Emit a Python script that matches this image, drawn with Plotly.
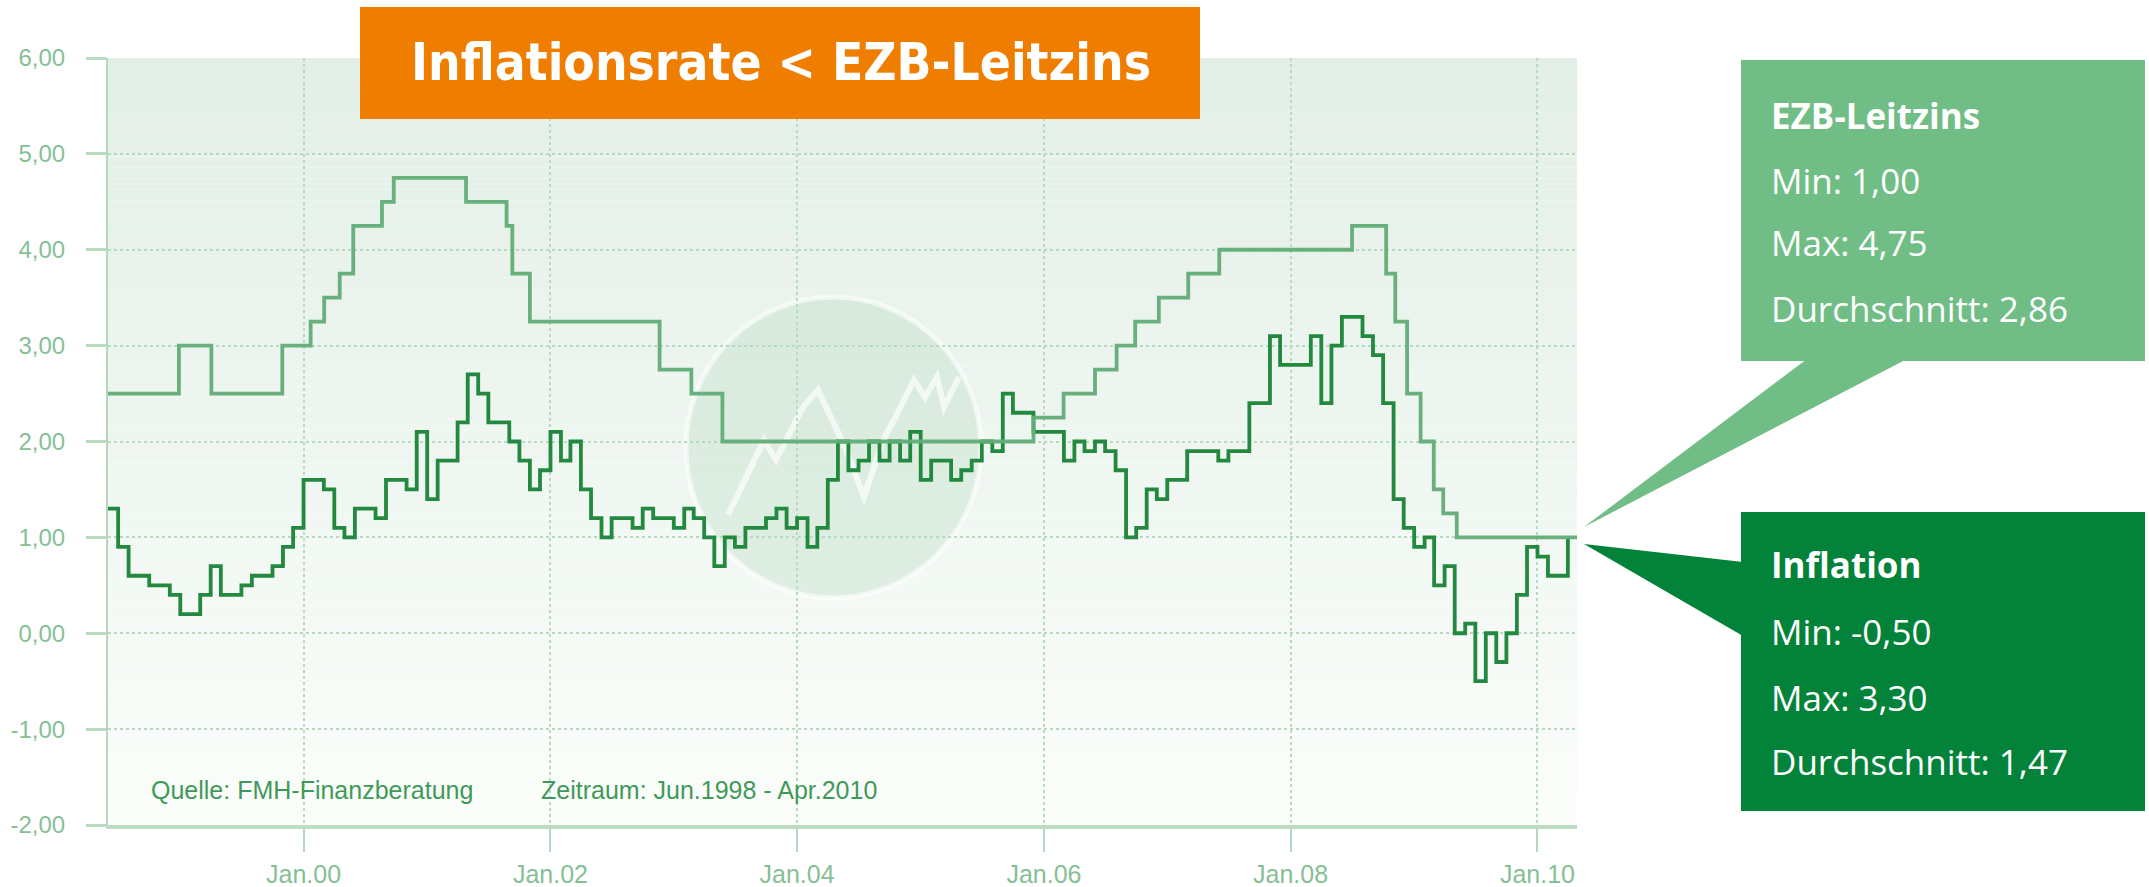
import pandas as pd
import plotly.graph_objects as go

# ---------------- data ----------------
# German inflation rate (% yoy), monthly from Jun 1998 to Apr 2010
months = pd.date_range("1998-06-01", periods=143, freq="MS")
inflation = [
    1.3, 0.9, 0.6, 0.6, 0.5, 0.5, 0.4,                                  # Jun-Dec 1998
    0.2, 0.2, 0.4, 0.7, 0.4, 0.4, 0.5, 0.6, 0.6, 0.7, 0.9, 1.1,         # 1999
    1.6, 1.6, 1.5, 1.1, 1.0, 1.3, 1.3, 1.2, 1.6, 1.6, 1.5, 2.1,         # 2000
    1.4, 1.8, 1.8, 2.2, 2.7, 2.5, 2.2, 2.2, 2.0, 1.8, 1.5, 1.7,         # 2001
    2.1, 1.8, 2.0, 1.5, 1.2, 1.0, 1.2, 1.2, 1.1, 1.3, 1.2, 1.2,         # 2002
    1.1, 1.3, 1.2, 1.0, 0.7, 1.0, 0.9, 1.1, 1.1, 1.2, 1.3, 1.1,         # 2003
    1.2, 0.9, 1.1, 1.6, 2.0, 1.7, 1.8, 2.0, 1.8, 2.0, 1.8, 2.1,         # 2004
    1.6, 1.8, 1.8, 1.6, 1.7, 1.8, 2.0, 1.9, 2.5, 2.3, 2.3, 2.1,         # 2005
    2.1, 2.1, 1.8, 2.0, 1.9, 2.0, 1.9, 1.7, 1.0, 1.1, 1.5, 1.4,         # 2006
    1.6, 1.6, 1.9, 1.9, 1.9, 1.8, 1.9, 1.9, 2.4, 2.4, 3.1, 2.8,         # 2007
    2.8, 2.8, 3.1, 2.4, 3.0, 3.3, 3.3, 3.1, 2.9, 2.4, 1.4, 1.1,         # 2008
    0.9, 1.0, 0.5, 0.7, 0.0, 0.1, -0.5, 0.0, -0.3, 0.0, 0.4, 0.9,       # 2009
    0.8, 0.6, 0.6, 1.0,                                                 # Jan-Apr 2010
]

# EZB-Leitzins: dates of rate changes (as drawn) and the new rate
ezb_dates = [
    "1998-06-01", "1998-12-28", "1999-04-03", "1999-10-30", "2000-01-22",
    "2000-03-02", "2000-04-17", "2000-05-27", "2000-08-20", "2000-09-24",
    "2001-04-26", "2001-08-24", "2001-09-10", "2001-11-01", "2002-11-20",
    "2003-02-22", "2003-05-25", "2005-12-01", "2006-02-28", "2006-06-01",
    "2006-08-04", "2006-09-28", "2006-12-07", "2007-03-04", "2007-06-04",
    "2008-07-01", "2008-10-10", "2008-11-06", "2008-12-11", "2009-01-20",
    "2009-02-28", "2009-03-28", "2009-05-07",
]
ezb_rates = [
    2.50, 3.00, 2.50, 3.00, 3.25,
    3.50, 3.75, 4.25, 4.50, 4.75,
    4.50, 4.25, 3.75, 3.25, 2.75,
    2.50, 2.00, 2.25, 2.50, 2.75,
    3.00, 3.25, 3.50, 3.75, 4.00,
    4.25, 3.75, 3.25, 2.50, 2.00,
    1.50, 1.25, 1.00,
]

x_start, x_end = "1998-06-01", "2010-04-28"

y_ticks = [-2, -1, 0, 1, 2, 3, 4, 5, 6]
y_ticktext = ["-2,00", "-1,00", "0,00", "1,00", "2,00", "3,00", "4,00", "5,00", "6,00"]
x_ticks = ["2000-01-01", "2002-01-01", "2004-01-01", "2006-01-01", "2008-01-01", "2010-01-01"]
x_ticktext = ["Jan.00", "Jan.02", "Jan.04", "Jan.06", "Jan.08", "Jan.10"]

title_text = "Inflationsrate < EZB-Leitzins"
ezb_box = ["EZB-Leitzins", "Min: 1,00", "Max: 4,75", "Durchschnitt: 2,86"]
infl_box = ["Inflation", "Min: -0,50", "Max: 3,30", "Durchschnitt: 1,47"]
source_text = "Quelle: FMH-Finanzberatung"
period_text = "Zeitraum: Jun.1998 - Apr.2010"

# ---------------- layout helpers ----------------
W, H = 2149, 887
L, R, T, B = 108, 572, 58, 62
PW, PH = W - L - R, H - T - B


def fx(px):
    return (px - L) / PW


def fy(py):
    return (H - B - py) / PH


LINE_LIGHT = "#62ad77"
LINE_DARK = "#23893f"
TICK_FONT = "Liberation Sans, Arial, sans-serif"

fig = go.Figure()

fig.add_trace(go.Scatter(
    x=months, y=inflation, mode="lines", line_shape="hv",
    line=dict(color=LINE_DARK, width=3.8), name="Inflation",
))
fig.add_trace(go.Scatter(
    x=ezb_dates + [x_end], y=ezb_rates + [ezb_rates[-1]], mode="lines", line_shape="hv",
    line=dict(color=LINE_LIGHT, width=3.8), name="EZB-Leitzins", opacity=0.95,
))

shapes = []
# background gradient of the plot area
N = 70
top_c, bot_c = (226, 239, 230), (251, 253, 251)
for i in range(N):
    t = i / (N - 1)
    c = tuple(round(top_c[k] + (bot_c[k] - top_c[k]) * t) for k in range(3))
    y1 = 6 - 8 * i / N
    y0 = 6 - 8 * (i + 1) / N
    shapes.append(dict(type="rect", xref="paper", yref="y", x0=0, x1=1, y0=y0, y1=y1,
                       fillcolor="rgb(%d,%d,%d)" % c, line=dict(width=0), layer="below"))

# faint watermark logo
shapes.append(dict(type="circle", xref="paper", yref="paper",
                   x0=fx(686), x1=fx(981), y0=fy(598), y1=fy(297),
                   fillcolor="rgba(185,220,195,0.36)",
                   line=dict(color="rgba(255,255,255,0.6)", width=5), layer="below"))
logo_pts = [(728, 515), (764, 440), (776, 460), (803, 407), (818, 390), (826, 407),
            (845, 447), (864, 497), (883, 440), (894, 420), (914, 380), (925, 397),
            (937, 377), (944, 407), (959, 377)]
logo_path = "M " + " L ".join("%.5f,%.5f" % (fx(a), fy(b)) for a, b in logo_pts)
shapes.append(dict(type="path", xref="paper", yref="paper", path=logo_path,
                   line=dict(color="rgba(255,255,255,0.65)", width=6), layer="below"))

# title box
shapes.append(dict(type="rect", xref="paper", yref="paper",
                   x0=fx(360), x1=fx(1200), y0=fy(119), y1=fy(7),
                   fillcolor="#ef7d00", line=dict(width=0), layer="above"))

# callout boxes + pointers
EZB_BOX = "#71bd86"
INF_BOX = "#03833a"


def tri(p):
    return "M " + " L ".join("%.5f,%.5f" % (fx(a), fy(b)) for a, b in p) + " Z"


shapes.append(dict(type="path", xref="paper", yref="paper",
                   path=tri([(1584, 527), (1807, 359), (1907, 359)]),
                   fillcolor=EZB_BOX, line=dict(width=0), layer="above"))
shapes.append(dict(type="rect", xref="paper", yref="paper",
                   x0=fx(1741), x1=fx(2145), y0=fy(361), y1=fy(60),
                   fillcolor=EZB_BOX, line=dict(width=0), layer="above"))
shapes.append(dict(type="path", xref="paper", yref="paper",
                   path=tri([(1584, 544), (1743, 562), (1743, 636)]),
                   fillcolor=INF_BOX, line=dict(width=0), layer="above"))
shapes.append(dict(type="rect", xref="paper", yref="paper",
                   x0=fx(1741), x1=fx(2145), y0=fy(811), y1=fy(512),
                   fillcolor=INF_BOX, line=dict(width=0), layer="above"))

annotations = []
annotations.append(dict(text="<b>%s</b>" % title_text, xref="paper", yref="paper",
                        x=fx(781), y=fy(63), xanchor="center", yanchor="middle",
                        showarrow=False,
                        font=dict(family="DejaVu Sans Condensed, Liberation Sans, sans-serif",
                                  size=51, color="white")))

box_font = "Open Sans, Noto Sans, sans-serif"
for lines, centers in ((ezb_box, [116, 180, 243, 308]), (infl_box, [564, 631, 697, 761])):
    for i, (txt, cy) in enumerate(zip(lines, centers)):
        annotations.append(dict(text=("<b>%s</b>" % txt) if i == 0 else txt,
                                xref="paper", yref="paper", x=fx(1769), y=fy(cy),
                                xanchor="left", yanchor="middle", showarrow=False,
                                font=dict(family=box_font, size=35, color="white")))

for txt, px in ((source_text, 149), (period_text, 539)):
    annotations.append(dict(text=txt, xref="paper", yref="paper", x=fx(px), y=fy(790),
                            xanchor="left", yanchor="middle", showarrow=False,
                            font=dict(family=TICK_FONT, size=25, color="#3f9a58")))

fig.update_layout(
    width=W, height=H,
    margin=dict(l=L, r=R, t=T, b=B, pad=0, autoexpand=False),
    paper_bgcolor="white", plot_bgcolor="white",
    showlegend=False,
    shapes=shapes, annotations=annotations,
    xaxis=dict(
        type="date", range=[x_start, x_end], fixedrange=True, automargin=False,
        tickmode="array", tickvals=x_ticks, ticktext=x_ticktext,
        showgrid=True, griddash="dot", gridcolor="#b7dbc1", gridwidth=1.5,
        showline=True, linecolor="#bcdcc5", linewidth=4,
        ticks="outside", ticklen=23, tickwidth=1.5, tickcolor="#b3d8bd",
        ticklabelstandoff=1,
        tickfont=dict(family=TICK_FONT, size=25, color="#86bf95"),
        zeroline=False,
    ),
    yaxis=dict(
        range=[-2, 6], fixedrange=True, automargin=False,
        tickmode="array", tickvals=y_ticks, ticktext=y_ticktext,
        showgrid=True, griddash="dot", gridcolor="#b7dbc1", gridwidth=2,
        showline=True, linecolor="#b3d8bd", linewidth=2,
        ticks="outside", ticklen=20, tickwidth=3, tickcolor="#b9dcc3",
        ticklabelstandoff=16,
        tickfont=dict(family=TICK_FONT, size=24, color="#86bf95"),
        zeroline=False,
    ),
)

fig.write_html(
    "out.html",
    config={"displayModeBar": False},
    post_script="document.body.style.margin='0';document.body.style.overflow='hidden';",
)
